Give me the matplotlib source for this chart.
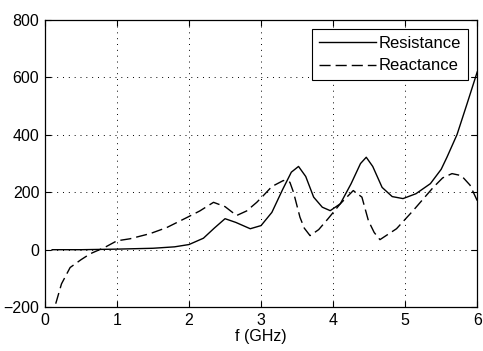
import numpy as np
import matplotlib
matplotlib.use("Agg")
import matplotlib.pyplot as plt

# Courbes (f en GHz, ohms)
f_res = [0.1, 0.5, 1.0, 1.5, 1.8, 2.0, 2.2, 2.35, 2.5, 2.65, 2.85, 3.0, 3.15,
         3.3, 3.42, 3.52, 3.62, 3.73, 3.85, 3.96, 4.1, 4.25, 4.38, 4.46, 4.55,
         4.68, 4.82, 4.97, 5.15, 5.35, 5.5, 5.58, 5.72, 5.86, 6.0]
resistance = [0, 0, 2, 5, 10, 18, 40, 75, 108, 95, 73, 84, 130,
              210, 270, 290, 255, 183, 148, 136, 160, 230, 300, 322, 290,
              217, 185, 178, 195, 230, 280, 322, 401, 509, 619]

f_reac = [0.15, 0.23, 0.35, 0.5, 0.63, 0.83, 1.0, 1.18, 1.46, 1.69, 1.97, 2.15,
          2.34, 2.5, 2.66, 2.8, 2.94, 3.03, 3.15, 3.31, 3.4, 3.45, 3.54, 3.6,
          3.68, 3.8, 3.93, 4.1, 4.28, 4.4, 4.49, 4.57, 4.65, 4.88, 5.11, 5.39,
          5.52, 5.65, 5.78, 5.9, 6.0]
reactance = [-188, -119, -62, -35, -14, 8, 31, 38, 56, 77, 112, 135,
             165, 150, 119, 135, 165, 188, 220, 241, 235, 200, 113, 75,
             49, 70, 108, 160, 206, 183, 101, 60, 35, 73, 136, 217,
             250, 265, 258, 225, 171]

x_ticks = [0, 1, 2, 3, 4, 5, 6]
y_ticks = [-200, 0, 200, 400, 600, 800]

plt.rcParams["font.family"] = ["Liberation Sans", "DejaVu Sans"]
plt.rcParams["font.size"] = 11.5

fig = plt.figure(figsize=(4.83, 3.51), dpi=100)
ax = fig.add_axes([0.093, 0.125, 0.895, 0.818])

ax.plot(f_res, resistance, color="black", linewidth=1.0, label="Resistance")
ax.plot(f_reac, reactance, color="black", linewidth=1.0, linestyle=(0, (8, 3.6)),
        label="Reactance")

ax.set_xlim(0, 6)
ax.set_ylim(-200, 800)
ax.set_xticks(x_ticks)
ax.set_yticks(y_ticks)
ax.tick_params(direction="in", top=True, right=True, length=4, width=0.8,
               colors="black", pad=4)
ax.grid(True, color="black", linestyle=(0, (1, 5)), linewidth=0.7)
for s in ax.spines.values():
    s.set_linewidth(0.9)
ax.set_xlabel("f (GHz)", labelpad=1)

leg = ax.legend(loc="upper right", fancybox=False, framealpha=1,
                edgecolor="black", handlelength=3.4, handletextpad=0.2,
                borderaxespad=0.55, labelspacing=0.45, borderpad=0.4,
                fontsize=12)
leg.get_frame().set_linewidth(0.8)

plt.savefig("out.png", dpi=100)
plt.close()
